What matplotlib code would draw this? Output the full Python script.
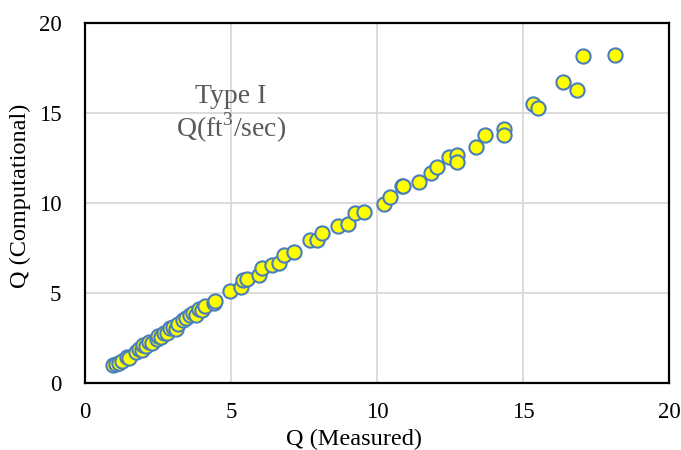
import matplotlib
matplotlib.use("Agg")
import matplotlib.pyplot as plt

plt.rcParams['font.family'] = ['Liberation Serif', 'DejaVu Serif']
plt.rcParams['mathtext.fontset'] = 'custom'
plt.rcParams['mathtext.rm'] = 'Liberation Serif'

# measured vs computed discharge
q_measured = [0.95, 1.05, 1.15, 1.25, 1.45, 1.5, 1.75, 1.85, 1.95, 2.0,
              2.1, 2.2, 2.3, 2.45, 2.5, 2.6, 2.7, 2.8, 2.9, 3.0,
              3.1, 3.2, 3.35, 3.45, 3.6, 3.7, 3.8, 3.9, 4.0, 4.1,
              4.4, 4.45, 4.95, 5.35, 5.4, 5.55, 5.95, 6.05, 6.4, 6.65,
              6.8, 7.15, 7.7, 7.95, 8.1, 8.65, 9.0, 9.25, 9.55, 10.25,
              10.45, 10.85, 10.9, 11.45, 11.85, 12.05, 12.45, 12.75, 12.75, 13.4,
              13.7, 14.35, 14.35, 15.35, 15.5, 16.35, 16.85, 17.05, 18.15]
q_computed = [0.98, 1.05, 1.12, 1.2, 1.45, 1.4, 1.7, 1.9, 1.85, 2.1,
              2.05, 2.25, 2.2, 2.45, 2.6, 2.55, 2.8, 2.75, 3.05, 3.1,
              3.0, 3.3, 3.5, 3.6, 3.75, 3.9, 3.8, 4.1, 4.05, 4.25,
              4.45, 4.55, 5.1, 5.35, 5.7, 5.75, 6.0, 6.4, 6.55, 6.65,
              7.1, 7.25, 7.95, 7.95, 8.35, 8.7, 8.85, 9.45, 9.5, 9.95,
              10.35, 10.95, 10.95, 11.15, 11.65, 12.0, 12.55, 12.65, 12.25, 13.1,
              13.8, 14.1, 13.75, 15.5, 15.3, 16.7, 16.25, 18.15, 18.2]

ticks = [0, 5, 10, 15, 20]

fig = plt.figure(figsize=(6.81, 4.5), dpi=100)
ax = fig.add_axes([0.1248, 0.149, 0.858, 0.8])

ax.scatter(q_measured, q_computed, s=105, facecolor='#FFFF00',
           edgecolor='#4A7EBB', linewidth=1.5, zorder=3)

ax.set_xlim(0, 20)
ax.set_ylim(0, 20)
ax.set_xticks(ticks)
ax.set_yticks(ticks)
ax.grid(True, color='#D9D9D9', linewidth=1.3)
ax.set_axisbelow(True)
ax.tick_params(length=0, labelsize=16.5)
ax.tick_params(axis='x', pad=14)
ax.tick_params(axis='y', pad=17)
for sp in ax.spines.values():
    sp.set_linewidth(1.6)
    sp.set_color('black')

ax.set_xlabel('Q (Measured)', fontsize=17.5)
ax.xaxis.set_label_coords(0.46, -0.128)
ax.set_ylabel('Q (Computational)', fontsize=17.5)
ax.yaxis.set_label_coords(-0.093, 0.52)

ax.text(5.0, 15.9, 'Type I', fontsize=20, color='#595959',
        ha='center', va='center')
ax.text(5.0, 14.2, r'Q(ft$^{\mathrm{3}}$/sec)', fontsize=20, color='#595959',
        ha='center', va='center')

fig.savefig('out.png', dpi=100)
